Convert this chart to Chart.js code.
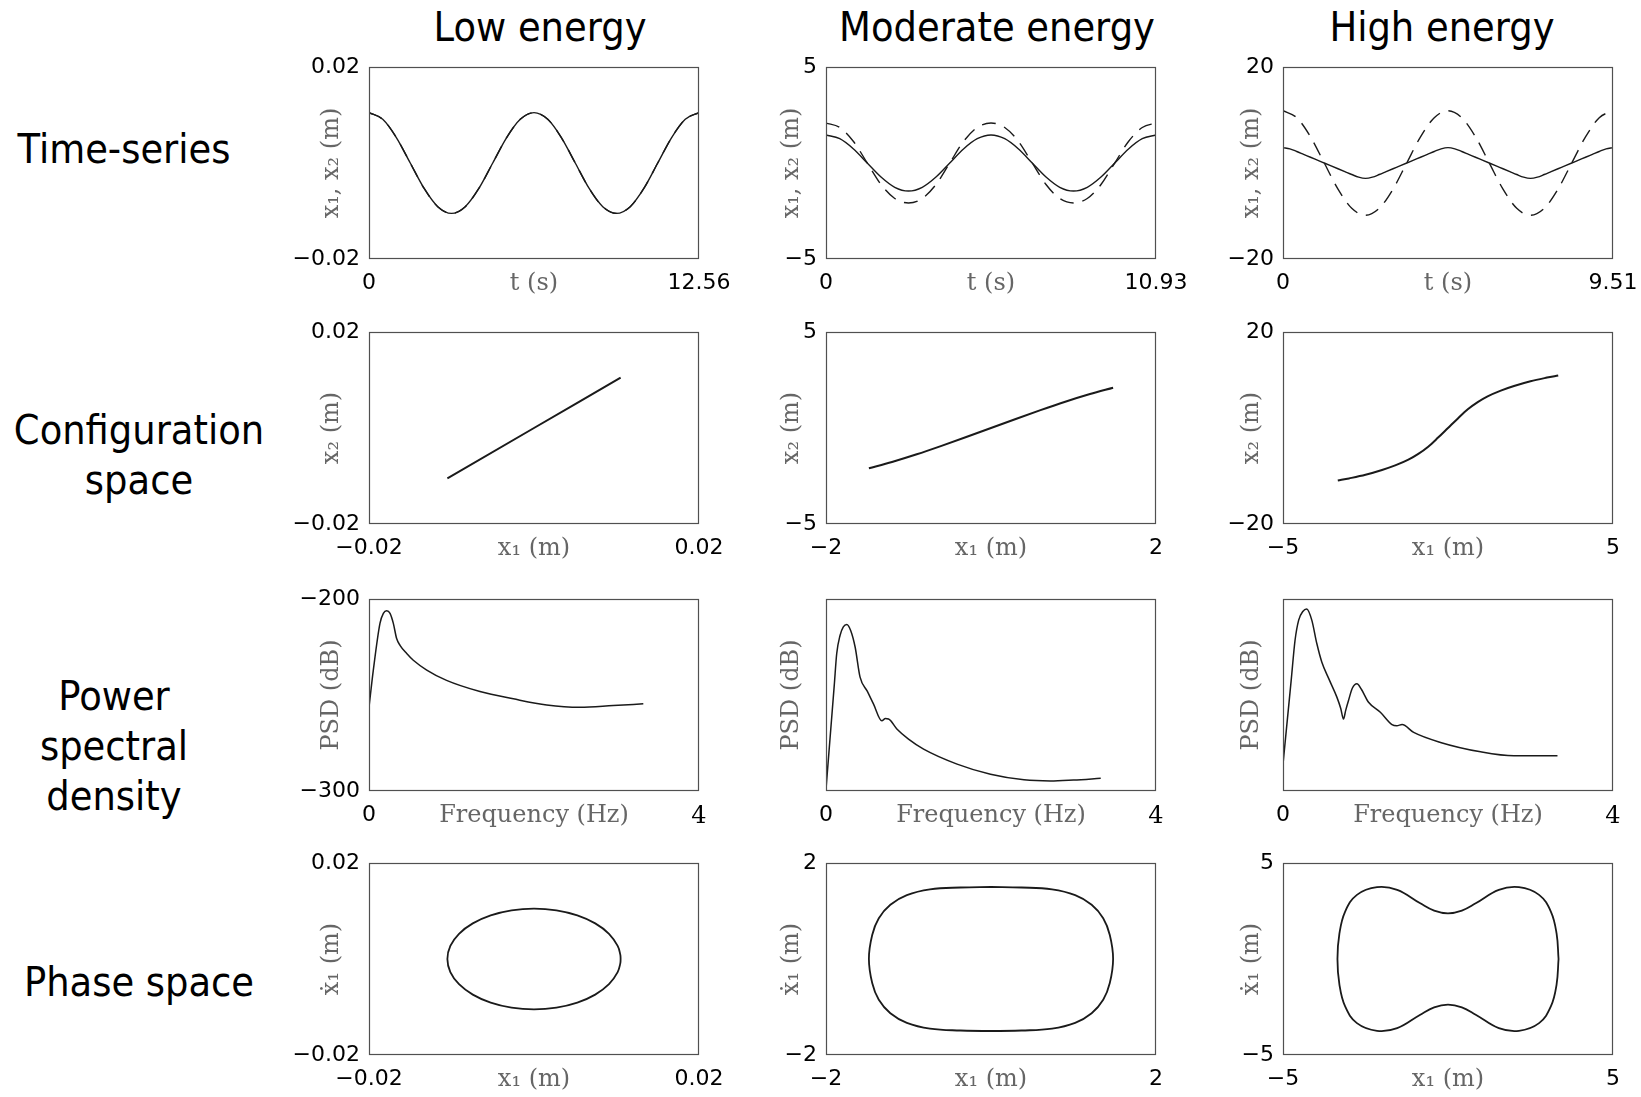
<!DOCTYPE html>
<html><head><meta charset="utf-8">
<script src="https://cdn.jsdelivr.net/npm/chart.js@4.4.1/dist/chart.umd.min.js"></script>
<style>
body{margin:0;background:#fff;width:1641px;height:1097px;position:relative;overflow:hidden;}
canvas{position:absolute;}
.lbl{position:absolute;font-family:'DejaVu Sans';font-size:41px;line-height:50px;text-align:center;white-space:nowrap;transform:translate(-50%,-50%) scaleX(0.9);color:#000;}
</style></head><body>
<div class="lbl" style="left:540px;top:27px">Low energy</div>
<div class="lbl" style="left:997px;top:27px">Moderate energy</div>
<div class="lbl" style="left:1442px;top:27px">High energy</div>
<div class="lbl" style="left:124px;top:149px">Time-series</div>
<div class="lbl" style="left:139px;top:455px">Configuration<br>space</div>
<div class="lbl" style="left:114px;top:746px">Power<br>spectral<br>density</div>
<div class="lbl" style="left:139px;top:982px">Phase space</div>
<script>
// ---------- Time-series ----------
const t1 = [0,0.523,1.047,1.57,2.093,2.617,3.14,3.663,4.187,4.71,5.233,5.757,6.28,6.803,7.327,7.85,8.373,8.897,9.42,9.943,10.467,10.99,11.513,12.037,12.56];
const ts1_x1 = [0.0105,0.0091,0.00525,0,-0.00525,-0.0091,-0.0105,-0.0091,-0.00525,0,0.00525,0.0091,0.0105,0.0091,0.00525,0,-0.00525,-0.0091,-0.0105,-0.0091,-0.00525,0,0.00525,0.0091,0.0105];
const ts1_x2 = [0.0105,0.0091,0.00525,0,-0.00525,-0.0091,-0.0105,-0.0091,-0.00525,0,0.00525,0.0091,0.0105,0.0091,0.00525,0,-0.00525,-0.0091,-0.0105,-0.0091,-0.00525,0,0.00525,0.0091,0.0105];
const t2 = [0,0.455,0.911,1.366,1.822,2.277,2.733,3.188,3.643,4.099,4.554,5.01,5.465,5.92,6.376,6.831,7.287,7.742,8.198,8.653,9.108,9.564,10.019,10.475,10.93];
const ts2_x1 = [1.46,1.264,0.73,0,-0.73,-1.264,-1.46,-1.264,-0.73,0,0.73,1.264,1.46,1.264,0.73,0,-0.73,-1.264,-1.46,-1.264,-0.73,0,0.73,1.264,1.46];
const ts2_x2 = [2.08,1.85,1.12,0,-1.12,-1.85,-2.08,-1.85,-1.12,0,1.12,1.85,2.08,1.85,1.12,0,-1.12,-1.85,-2.08,-1.85,-1.12,0,1.12,1.85,2.08];
const t3 = [0,0.396,0.793,1.189,1.585,1.981,2.378,2.774,3.17,3.566,3.963,4.359,4.755,5.151,5.548,5.944,6.34,6.736,7.133,7.529,7.925,8.321,8.718,9.114,9.51];
const ts3_x2 = [10.9,9.44,5.45,0,-5.45,-9.44,-10.9,-9.44,-5.45,0,5.45,9.44,10.9,9.44,5.45,0,-5.45,-9.44,-10.9,-9.44,-5.45,0,5.45,9.44,10.9];
const t3f = [0,0.198,0.396,0.594,0.793,0.991,1.189,1.387,1.585,1.783,1.981,2.18,2.378,2.576,2.774,2.972,3.17,3.368,3.566,3.764,3.963,4.161,4.359,4.557,4.755,4.953,5.151,5.349,5.548,5.746,5.944,6.142,6.34,6.538,6.736,6.934,7.133,7.331,7.529,7.727,7.925,8.123,8.321,8.519,8.718,8.916,9.114,9.312,9.51];
const ts3_x1 = [3.2,2.95,2.4,1.8,1.2,0.6,0,-0.6,-1.2,-1.8,-2.4,-2.95,-3.2,-2.95,-2.4,-1.8,-1.2,-0.6,0,0.6,1.2,1.8,2.4,2.95,3.2,2.95,2.4,1.8,1.2,0.6,0,-0.6,-1.2,-1.8,-2.4,-2.95,-3.2,-2.95,-2.4,-1.8,-1.2,-0.6,0,0.6,1.2,1.8,2.4,2.95,3.2];

// ---------- Configuration space ----------
const cs1_x1 = [-0.0105,0,0.0105];
const cs1_x2 = [-0.0105,0,0.0105];
const cs2_x1 = [-1.48,-1.2,-0.9,-0.6,-0.3,0,0.3,0.6,0.9,1.2,1.48];
const cs2_x2 = [-2.1,-1.77,-1.37,-0.93,-0.47,0,0.47,0.93,1.37,1.77,2.1];
const cs3_x1 = [-3.34,-3.0,-2.5,-2.0,-1.6,-1.2,-0.9,-0.6,-0.3,0,0.3,0.6,0.9,1.2,1.6,2.0,2.5,3.0,3.34];
const cs3_x2 = [-10.95,-10.5,-9.75,-8.75,-7.8,-6.6,-5.4,-3.9,-2.0,0,2.0,3.9,5.4,6.6,7.8,8.75,9.75,10.5,10.95];

// ---------- Power spectral density ----------
const psd1_f  = [0,0.052,0.133,0.174,0.214,0.255,0.295,0.335,0.376,0.457,0.537,0.7,0.94,1.345,1.75,2.154,2.557,2.96,3.325];
const psd1_db = [-256.4,-237.2,-212.7,-207.5,-206.1,-207.5,-212.7,-220.6,-224.1,-228.4,-231.9,-237,-242.4,-248.2,-252,-255.2,-256.4,-255.5,-254.6];
const psd2_f  = [0,0.05,0.1,0.13,0.17,0.21,0.252,0.3,0.353,0.413,0.5,0.575,0.677,0.72,0.758,0.859,1.0,1.183,1.589,1.994,2.4,2.72,3.0,3.33];
const psd2_db = [-299,-272,-245,-228.4,-219,-214.5,-213.3,-216.5,-225,-240.7,-248,-254.6,-263.4,-262.3,-262.5,-267.7,-273,-278.2,-286,-291.3,-294.2,-294.8,-294.3,-293.4];
const psd3_f  = [0,0.05,0.1,0.146,0.19,0.24,0.288,0.349,0.41,0.47,0.56,0.653,0.7,0.733,0.76,0.794,0.84,0.896,0.95,1.037,1.18,1.321,1.38,1.443,1.584,1.909,2.395,2.8,3.327];
const psd3_db = [-286,-264,-242,-221.5,-211,-206.5,-205.2,-211,-223.2,-232.8,-242,-251.1,-257,-262.5,-258,-252.9,-246.5,-244.1,-247,-253.8,-259,-265.4,-266,-265.4,-269.5,-274.7,-279.6,-281.7,-281.7];

// ---------- Phase space ----------
const ph1_x = [0.0105,0.01046,0.01014,0.00909,0.00742,0.00525,0.00272,0,-0.00272,-0.00525,-0.00742,-0.00909,-0.01014,-0.0105,-0.01014,-0.00909,-0.00742,-0.00525,-0.00272,0,0.00272,0.00525,0.00742,0.00909,0.01014,0.01046,0.0105];
const ph1_v = [0,0.000915,0.00272,0.00525,0.00742,0.00909,0.01014,0.0105,0.01014,0.00909,0.00742,0.00525,0.00272,0,-0.00272,-0.00525,-0.00742,-0.00909,-0.01014,-0.0105,-0.01014,-0.00909,-0.00742,-0.00525,-0.00272,-0.000915,0];
const ph2_x = [0,0.37,0.74,1.02,1.22,1.36,1.44,1.48,1.44,1.36,1.22,1.02,0.74,0.37,0,-0.37,-0.74,-1.02,-1.22,-1.36,-1.44,-1.48,-1.44,-1.36,-1.22,-1.02,-0.74,-0.37,0];
const ph2_v = [1.5,1.49,1.45,1.33,1.13,0.85,0.5,0,-0.5,-0.85,-1.13,-1.33,-1.45,-1.49,-1.5,-1.49,-1.45,-1.33,-1.13,-0.85,-0.5,0,0.5,0.85,1.13,1.33,1.45,1.49,1.5];
const ph3_x = [3.35,3.29,3.12,2.76,2.15,1.54,0.84,0.42,0,-0.42,-0.84,-1.54,-2.15,-2.76,-3.12,-3.29,-3.35,-3.29,-3.12,-2.76,-2.15,-1.54,-0.84,-0.42,0,0.42,0.84,1.54,2.15,2.76,3.12,3.29,3.35];
const ph3_v = [0,1.33,2.46,3.34,3.74,3.6,2.9,2.52,2.38,2.52,2.9,3.6,3.74,3.34,2.46,1.33,0,-1.33,-2.46,-3.34,-3.74,-3.6,-2.9,-2.52,-2.38,-2.52,-2.9,-3.6,-3.74,-3.34,-2.46,-1.33,0];

// ---------- Axis ranges & tick labels ----------
const tsXMax = [12.56,10.93,9.51];
const tsXLabels = [["0","12.56"],["0","10.93"],["0","9.51"]];
const dispRange = [0.02,5,20];
const dispLabels = [["\u22120.02","0.02"],["\u22125","5"],["\u221220","20"]];
const x1Range = [0.02,2,5];
const x1Labels = [["\u22120.02","0.02"],["\u22122","2"],["\u22125","5"]];
const velRange = [0.02,2,5];
const velLabels = [["\u22120.02","0.02"],["\u22122","2"],["\u22125","5"]];
const psdYLabels = [["\u2212300","\u2212200"],null,null];
const psdXLabels = ["0","4"];

// ---------- Layout ----------
const colLeft=[369,826,1283], rowTop=[67,332,599,863], PW=330, PH=192, L=90, T=14, R=40, B=50;
const yTitleOff=[37,34,31];
const zip=(a,b)=>a.map((v,i)=>({x:v,y:b[i]}));
const framePlugin={id:'frame',afterDraw(c){const a=c.chartArea,ctx=c.ctx;ctx.save();ctx.strokeStyle='#505050';ctx.lineWidth=1.2;ctx.strokeRect(a.left+0.5,a.top+0.5,a.right-a.left-1,a.bottom-a.top-1);ctx.restore();}};
const sans={family:'DejaVu Sans',size:22};
const serif={family:'DejaVu Serif',size:24};

function panel(row,col,s){
  const cv=document.createElement('canvas');
  cv.width=L+PW+R; cv.height=T+PH+B;
  cv.style.left=(colLeft[col]-L)+'px'; cv.style.top=(rowTop[row]-T)+'px';
  document.body.appendChild(cv);
  const ds=s.sets.map(d=>({data:zip(d.x,d.y),showLine:true,pointRadius:0,borderColor:'#1a1a1a',
    borderWidth:d.w||1.5,borderDash:d.dash||[],cubicInterpolationMode:d.mono?'monotone':'default',
    tension:d.mono?0:0.4,fill:false}));
  new Chart(cv,{type:'scatter',data:{datasets:ds},
    options:{responsive:false,animation:false,events:[],
      layout:{padding:{top:T,right:R,left:0,bottom:0}},
      plugins:{legend:{display:false},tooltip:{enabled:false}},
      scales:{
        x:{type:'linear',min:s.xr[0],max:s.xr[1],
          afterBuildTicks:sc=>{sc.ticks=[{value:s.xr[0]},{value:s.xr[1]}];},
          afterFit:sc=>{sc.height=B;sc.paddingLeft=0;sc.paddingRight=0;sc.paddingTop=0;sc.paddingBottom=0;},
          grid:{display:false,drawTicks:false},border:{display:false},
          ticks:{padding:11,autoSkip:false,maxRotation:0,color:'#000',
            font:c=>(s.xSerifLast&&c.index===1)?serif:sans,
            callback:(v,i)=>s.xl[i]},
          title:{display:true,text:s.xt,font:serif,color:'#666',padding:{top:0,bottom:11}}},
        y:{type:'linear',min:s.yr[0],max:s.yr[1],
          afterBuildTicks:sc=>{sc.ticks=[{value:s.yr[0]},{value:s.yr[1]}];},
          afterFit:sc=>{sc.width=L;sc.paddingLeft=0;sc.paddingRight=0;sc.paddingTop=0;sc.paddingBottom=0;},
          grid:{display:false,drawTicks:false},border:{display:false},
          ticks:{display:!!s.yl,padding:9,autoSkip:false,color:'#000',font:sans,
            callback:(v,i)=>s.yl?s.yl[i]:''},
          title:{display:true,text:s.yt,font:serif,color:'#666',padding:{top:L-yTitleOff[col]-14.4,bottom:0}}}
      }},
    plugins:[framePlugin]});
}

const tsA=[ts1_x1,ts2_x1,ts3_x1], tsB=[ts1_x2,ts2_x2,ts3_x2], tsTA=[t1,t2,t3f], tsTB=[t1,t2,t3];
const csA=[cs1_x1,cs2_x1,cs3_x1], csB=[cs1_x2,cs2_x2,cs3_x2];
const psF=[psd1_f,psd2_f,psd3_f], psD=[psd1_db,psd2_db,psd3_db];
const phX=[ph1_x,ph2_x,ph3_x], phV=[ph1_v,ph2_v,ph3_v];

for(let c=0;c<3;c++){
  panel(0,c,{xr:[0,tsXMax[c]],yr:[-dispRange[c],dispRange[c]],xl:tsXLabels[c],yl:dispLabels[c],
    xt:'t (s)',yt:'x\u2081, x\u2082 (m)',
    sets:[{x:tsTA[c],y:tsA[c],mono:true,w:1.4},{x:tsTB[c],y:tsB[c],mono:true,w:1.4,dash:[14,9]}]});
  panel(1,c,{xr:[-x1Range[c],x1Range[c]],yr:[-dispRange[c],dispRange[c]],xl:x1Labels[c],yl:dispLabels[c],
    xt:'x\u2081 (m)',yt:'x\u2082 (m)',
    sets:[{x:csA[c],y:csB[c],mono:true,w:2}]});
  panel(2,c,{xr:[0,4],yr:[-300,-200],xl:psdXLabels,yl:psdYLabels[c],xSerifLast:true,
    xt:'Frequency (Hz)',yt:'PSD (dB)',
    sets:[{x:psF[c],y:psD[c],mono:true,w:1.5}]});
  panel(3,c,{xr:[-x1Range[c],x1Range[c]],yr:[-velRange[c],velRange[c]],xl:x1Labels[c],yl:velLabels[c],
    xt:'x\u2081 (m)',yt:'\u1E8B\u2081 (m)',
    sets:[{x:phX[c],y:phV[c],w:1.8}]});
}
</script>
</body></html>
